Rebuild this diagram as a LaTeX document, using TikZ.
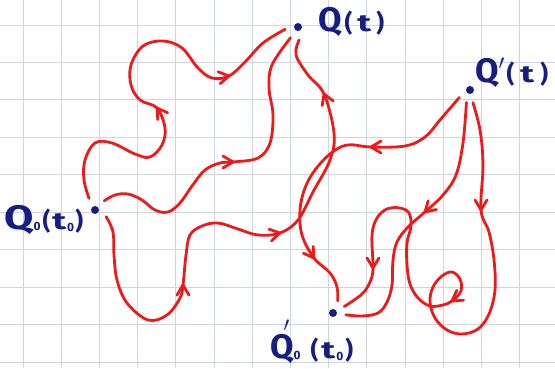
\documentclass[tikz,border=0pt]{standalone}
\usepackage{fontspec}
\setmainfont{Fira Sans}
\definecolor{pathred}{RGB}{238,26,26}
\definecolor{inkblue}{RGB}{22,30,130}
\definecolor{gridc}{RGB}{205,214,224}
\newcommand{\LQ}{{\fontsize{34}{34}\selectfont Q}}
\newcommand{\LP}[1]{{\fontsize{24}{24}\selectfont #1}}
\newcommand{\Tt}{\scalebox{1.5}[1]{\LP{t}}}
\newcommand{\SmallO}{{\fontsize{12}{12}\selectfont 0}}
\newcommand{\PrimeMark}[1]{\rlap{\raisebox{#1}{\fontsize{22}{22}\selectfont$\prime$}}}
\begin{document}
\begin{tikzpicture}[x=1pt,y=-1pt,
  redpath/.style={draw=pathred,line width=2.8pt,line cap=round,line join=round},
  gridline/.style={draw=gridc,line width=0.9pt},
  dotnode/.style={circle,fill=inkblue,inner sep=0pt,minimum size=8pt,outer sep=9pt},
  lbl/.style={text=inkblue,font=\bfseries,inner sep=0pt,anchor=base west},
  pics/chev/.style={code={\draw[redpath] (-10,6) -- (0,0) -- (-10,-6);}}
]
\useasboundingbox (0,0) rectangle (555,368);
\fill[white] (0,0) rectangle (555,368);
\foreach \k in {0,...,9} \draw[gridline] (0,{25+37.45*\k}) -- (555,{25+37.45*\k});
\foreach \k in {0,...,13} \draw[gridline] ({23+38.2*\k},0) -- ({23+38.2*\k},368);

% points
\node[dotnode] (q0) at (95,210) {};
\node[dotnode] (q) at (298,27) {};
\node[dotnode] (qp) at (470,90) {};
\node[dotnode] (qp0) at (333,313) {};

% labels
\node[lbl] (lq0) at (4,229) {\scalebox{1.25}[1]{\LQ}\raisebox{-1pt}{\SmallO}\hspace{2pt}\LP{(}\hspace{2pt}\Tt\hspace{1pt}\raisebox{-2pt}{\SmallO}\hspace{1pt}\LP{)}};
\node[lbl] (lq) at (318,31) {\LQ\hspace{3pt}\LP{(}\hspace{5pt}\Tt\hspace{5pt}\LP{)}};
\node[lbl] (lqp) at (475,82) {\LQ\hspace{0pt}\PrimeMark{13pt}\hspace{8pt}\LP{(}\hspace{6pt}\Tt\hspace{6pt}\LP{)}};
\node[lbl] (lqp0) at (270,358) {\LQ\hspace{-10pt}\PrimeMark{27pt}\hspace{10pt}\raisebox{-1pt}{\SmallO}\hspace{10pt}\LP{(}\hspace{3pt}\Tt\hspace{1pt}\raisebox{-2pt}{\SmallO}\hspace{2pt}\LP{)}};

% forward paths Q0(t0) -> Q(t)
\draw[redpath] plot[smooth,tension=0.6] coordinates {(q0.117) (84,180) (85,160) (95,143) (112,143) (135,154) (150,157) (162,145) (165,128) (157,108) (140,100) (131,85) (131,65) (143,46) (163,41) (182,48) (198,68) (212,78) (229,76) (245,62) (263,43) (q.190)};
\draw[redpath] plot[smooth,tension=0.6] coordinates {(q0.45) (115,195) (128,194) (142,200) (155,210) (168,212) (180,203) (192,186) (205,170) (220,163) (233,162) (258,158) (270,143) (273,115) (269,88) (272,65) (q.235)};
\draw[redpath] plot[smooth,tension=0.6] coordinates {(q0.-31) (113,232) (114,255) (117,280) (127,303) (148,320) (167,315) (180,298) (183,285) (186,255) (190,235) (202,226) (218,223) (238,229) (258,235) (280,233) (298,220) (313,192) (330,160) (334,133) (324,94) (308,75) (296,55) (q.275)};

% backward paths Q'(t) -> Q'0(t0)
\draw[redpath] plot[smooth,tension=0.6] coordinates {(qp.215) (440,120) (425,137) (405,146) (371,147) (347,145) (330,154) (315,170) (305,188) (300,210) (302,235) (314,258) (330,273) (337,287) (qp0.69)};
\draw[redpath] plot[smooth,tension=0.6] coordinates {(qp.254) (463,143) (456,175) (443,195) (425,212) (408,227) (397,242) (393,260) (392,285) (387,302) (378,313) (362,316) (qp0.-8)};
\draw[redpath] plot[smooth,tension=0.6] coordinates {(qp.283) (480,130) (483,165) (481,210) (489,232) (494,260) (495,290) (489,314) (478,329) (462,334) (447,330) (435,318) (430,302) (433,287) (442,276) (452,272) (460,279) (461,291) (452,301) (443,305) (430,306) (418,298) (410,284) (407,265) (407,243) (411,226) (409,213) (400,208) (387,209) (377,218) (372,235) (373,268) (370,282) (362,294) (qp0.30)};

% arrowheads
\pic[rotate=125] at (157,108) {chev};
\pic[rotate=10] at (229,76) {chev};
\pic[rotate=0] at (233,162) {chev};
\pic[rotate=90] at (183,285) {chev};
\pic[rotate=12] at (280,233) {chev};
\pic[rotate=112] at (324,94) {chev};
\pic[rotate=180] at (371,147) {chev};
\pic[rotate=-55] at (314,258) {chev};
\pic[rotate=-137] at (425,212) {chev};
\pic[rotate=-90] at (481,210) {chev};
\pic[rotate=-145] at (452,301) {chev};
\pic[rotate=-90] at (373,268) {chev};
\end{tikzpicture}
\end{document}
